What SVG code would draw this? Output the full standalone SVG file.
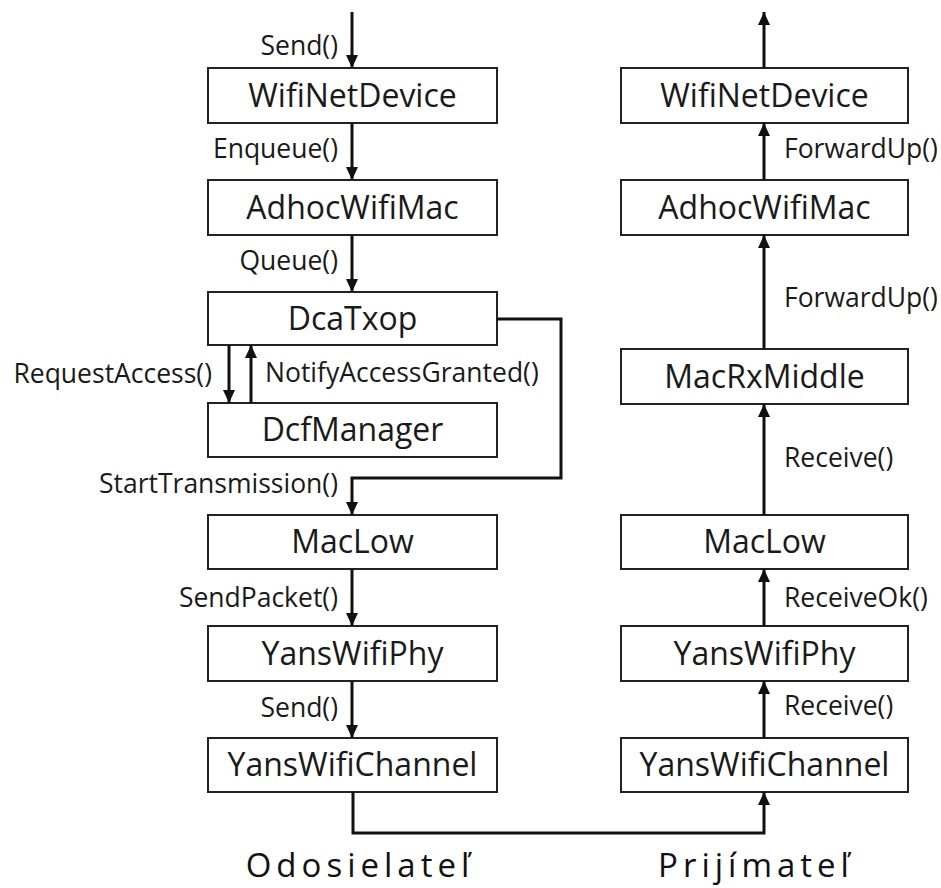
<svg xmlns="http://www.w3.org/2000/svg" width="941" height="888" viewBox="0 0 941 888">
  <style>
    .box rect { fill: #ffffff; stroke: #222222; stroke-width: 2; }
    .box text { font-family: "Open Sans", "Liberation Sans", sans-serif; font-size: 32px; fill: #1a1a1a; text-anchor: middle; }
    .lbl { font-family: "Open Sans", "Liberation Sans", sans-serif; font-size: 26.5px; fill: #1a1a1a; }
    .lbl.r { text-anchor: end; }
    .wire { fill: none; stroke: #111111; stroke-width: 3; }
    .side { font-family: "Open Sans", "Liberation Sans", sans-serif; font-size: 33px; fill: #111111; text-anchor: middle; letter-spacing: 5px; }
  </style>
  <defs>
    <marker id="arrow" markerUnits="userSpaceOnUse" markerWidth="14" markerHeight="14" viewBox="0 0 14 14" refX="13" refY="7" orient="auto">
      <path d="M0,1 L13,7 L0,13 Z" fill="#111111"/>
    </marker>
  </defs>
  <rect width="941" height="888" fill="#ffffff"/>

  <!-- sender stack -->
  <g id="tx-wifinetdevice" class="box"><rect x="208" y="68" width="289" height="55"/><text x="352.5" y="107">WifiNetDevice</text></g>
  <g id="tx-adhocwifimac" class="box"><rect x="208" y="180" width="289" height="55"/><text x="352.5" y="219">AdhocWifiMac</text></g>
  <g id="tx-dcatxop" class="box"><rect x="208" y="292" width="289" height="53"/><text x="352.5" y="330">DcaTxop</text></g>
  <g id="tx-dcfmanager" class="box"><rect x="208" y="403" width="289" height="54"/><text x="352.5" y="441">DcfManager</text></g>
  <g id="tx-maclow" class="box"><rect x="208" y="515" width="289" height="54"/><text x="352.5" y="553">MacLow</text></g>
  <g id="tx-yanswifiphy" class="box"><rect x="208" y="626" width="289" height="55"/><text x="352.5" y="665">YansWifiPhy</text></g>
  <g id="tx-yanswifichannel" class="box"><rect x="208" y="738" width="289" height="54"/><text x="352.5" y="776">YansWifiChannel</text></g>

  <!-- receiver stack -->
  <g id="rx-wifinetdevice" class="box"><rect x="621" y="68" width="287" height="55"/><text x="764.5" y="107">WifiNetDevice</text></g>
  <g id="rx-adhocwifimac" class="box"><rect x="621" y="180" width="287" height="55"/><text x="764.5" y="219">AdhocWifiMac</text></g>
  <g id="rx-macrxmiddle" class="box"><rect x="621" y="349" width="287" height="55"/><text x="764.5" y="388">MacRxMiddle</text></g>
  <g id="rx-maclow" class="box"><rect x="621" y="515" width="287" height="54"/><text x="764.5" y="553">MacLow</text></g>
  <g id="rx-yanswifiphy" class="box"><rect x="621" y="626" width="287" height="55"/><text x="764.5" y="665">YansWifiPhy</text></g>
  <g id="rx-yanswifichannel" class="box"><rect x="621" y="738" width="287" height="54"/><text x="764.5" y="776">YansWifiChannel</text></g>

  <!-- connectors -->
  <g id="connectors">
    <path class="wire" d="M352,12 V68" marker-end="url(#arrow)"/>
    <path class="wire" d="M352,123 V180" marker-end="url(#arrow)"/>
    <path class="wire" d="M352,235 V292" marker-end="url(#arrow)"/>
    <path class="wire" d="M229,345 V403" marker-end="url(#arrow)"/>
    <path class="wire" d="M251,403 V345" marker-end="url(#arrow)"/>
    <path class="wire" d="M497,319 H561 V478 H352 V515" marker-end="url(#arrow)"/>
    <path class="wire" d="M352,569 V626" marker-end="url(#arrow)"/>
    <path class="wire" d="M352,681 V738" marker-end="url(#arrow)"/>
    <path class="wire" d="M353,792 V833 H764 V792" marker-end="url(#arrow)"/>
    <path class="wire" d="M764,738 V681" marker-end="url(#arrow)"/>
    <path class="wire" d="M764,626 V569" marker-end="url(#arrow)"/>
    <path class="wire" d="M764,515 V404" marker-end="url(#arrow)"/>
    <path class="wire" d="M764,349 V235" marker-end="url(#arrow)"/>
    <path class="wire" d="M764,180 V123" marker-end="url(#arrow)"/>
    <path class="wire" d="M764,68 V12" marker-end="url(#arrow)"/>
  </g>

  <!-- call labels -->
  <g id="labels">
    <text class="lbl r" x="338" y="55">Send()</text>
    <text class="lbl r" x="338" y="158">Enqueue()</text>
    <text class="lbl r" x="338" y="270">Queue()</text>
    <text class="lbl r" x="212" y="383">RequestAccess()</text>
    <text class="lbl" x="265" y="382">NotifyAccessGranted()</text>
    <text class="lbl r" x="338" y="493">StartTransmission()</text>
    <text class="lbl r" x="338" y="607">SendPacket()</text>
    <text class="lbl r" x="338" y="717">Send()</text>
    <text class="lbl" x="784" y="158">ForwardUp()</text>
    <text class="lbl" x="784" y="307">ForwardUp()</text>
    <text class="lbl" x="784" y="467">Receive()</text>
    <text class="lbl" x="784" y="607">ReceiveOk()</text>
    <text class="lbl" x="784" y="715">Receive()</text>
  </g>

  <text class="side" x="360" y="877">Odosielateľ</text>
  <text class="side" x="756" y="877">Prijímateľ</text>
</svg>
